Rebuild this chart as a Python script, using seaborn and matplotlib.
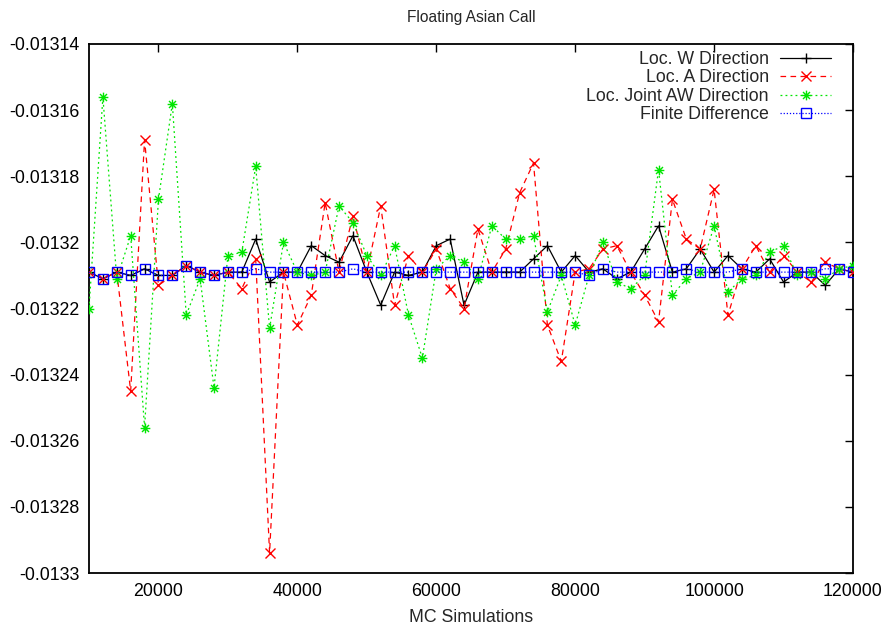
import numpy as np
import pandas as pd
import matplotlib
matplotlib.use("Agg")
import matplotlib.pyplot as plt
from matplotlib.path import Path
import seaborn as sns

# ---------------- data ----------------
mc_sims = list(range(10000, 120001, 2000))

loc_w = [-0.013209, -0.013211, -0.013209, -0.013210, -0.013208, -0.013210, -0.013210, -0.013207,
         -0.013209, -0.013210, -0.013209, -0.013209, -0.013199, -0.013212, -0.013209, -0.013209,
         -0.013201, -0.013204, -0.013206, -0.013198, -0.013209, -0.013219, -0.013209, -0.013210,
         -0.013209, -0.013201, -0.013199, -0.013219, -0.013209, -0.013209, -0.013209, -0.013209,
         -0.013205, -0.013201, -0.013209, -0.013204, -0.013209, -0.013208, -0.013211, -0.013209,
         -0.013202, -0.013195, -0.013209, -0.013208, -0.013202, -0.013209, -0.013204, -0.013208,
         -0.013209, -0.013205, -0.013212, -0.013209, -0.013209, -0.013213, -0.013208, -0.013209]

loc_a = [-0.013209, -0.013211, -0.013209, -0.013245, -0.013169, -0.013213, -0.013210, -0.013207,
         -0.013209, -0.013210, -0.013209, -0.013214, -0.013205, -0.013294, -0.013209, -0.013225,
         -0.013216, -0.013188, -0.013209, -0.013192, -0.013209, -0.013189, -0.013219, -0.013204,
         -0.013209, -0.013202, -0.013214, -0.013220, -0.013196, -0.013209, -0.013202, -0.013185,
         -0.013176, -0.013225, -0.013236, -0.013209, -0.013208, -0.013202, -0.013201, -0.013209,
         -0.013216, -0.013224, -0.013187, -0.013199, -0.013202, -0.013184, -0.013222, -0.013208,
         -0.013201, -0.013209, -0.013204, -0.013209, -0.013212, -0.013206, -0.013208, -0.013209]

loc_aw = [-0.013220, -0.013156, -0.013211, -0.013198, -0.013256, -0.013187, -0.013158, -0.013222,
          -0.013211, -0.013244, -0.013204, -0.013203, -0.013177, -0.013226, -0.013200, -0.013209,
          -0.013210, -0.013209, -0.013189, -0.013194, -0.013204, -0.013210, -0.013201, -0.013222,
          -0.013235, -0.013208, -0.013204, -0.013206, -0.013211, -0.013195, -0.013199, -0.013199,
          -0.013198, -0.013221, -0.013210, -0.013225, -0.013210, -0.013200, -0.013212, -0.013214,
          -0.013210, -0.013178, -0.013216, -0.013211, -0.013209, -0.013195, -0.013215, -0.013211,
          -0.013210, -0.013203, -0.013201, -0.013210, -0.013209, -0.013211, -0.013208, -0.013207]

finite_diff = [-0.013209, -0.013211, -0.013209, -0.013210, -0.013208, -0.013210, -0.013210, -0.013207,
               -0.013209, -0.013210, -0.013209, -0.013209, -0.013208, -0.013209, -0.013209, -0.013209,
               -0.013209, -0.013209, -0.013209, -0.013208, -0.013209, -0.013209, -0.013209, -0.013209,
               -0.013209, -0.013209, -0.013209, -0.013209, -0.013209, -0.013209, -0.013209, -0.013209,
               -0.013209, -0.013209, -0.013209, -0.013209, -0.013210, -0.013208, -0.013209, -0.013209,
               -0.013209, -0.013209, -0.013209, -0.013208, -0.013209, -0.013209, -0.013209, -0.013208,
               -0.013209, -0.013209, -0.013209, -0.013209, -0.013209, -0.013208, -0.013208, -0.013209]

x_ticks = [20000, 40000, 60000, 80000, 100000, 120000]
x_tick_labels = ["20000", "40000", "60000", "80000", "100000", "120000"]
y_ticks = [-0.01314, -0.01316, -0.01318, -0.0132, -0.01322, -0.01324, -0.01326, -0.01328, -0.0133]
y_tick_labels = ["-0.01314", "-0.01316", "-0.01318", "-0.0132", "-0.01322",
                 "-0.01324", "-0.01326", "-0.01328", "-0.0133"]

# ---------------- style ----------------
sns.set_style("white")
plt.rcParams["font.family"] = ["Liberation Sans", "DejaVu Sans"]
plt.rcParams["axes.unicode_minus"] = False

FS = 12.8

fig = plt.figure(figsize=(8.86, 6.30), dpi=100)
ax = fig.add_axes([89 / 886, 1 - 573 / 630, (853 - 89) / 886, (573 - 44) / 630])

asterisk = Path(
    [(-1, 0), (1, 0), (0, -1), (0, 1), (-0.72, -0.72), (0.72, 0.72), (-0.72, 0.72), (0.72, -0.72)],
    [Path.MOVETO, Path.LINETO, Path.MOVETO, Path.LINETO,
     Path.MOVETO, Path.LINETO, Path.MOVETO, Path.LINETO])

common = dict(ax=ax, linewidth=0.9, markeredgewidth=1.0)

sns.lineplot(x=mc_sims, y=loc_w, color="black", marker="+", markersize=7,
             markeredgecolor="black", linestyle="-", label="Loc. W Direction", zorder=2, **common)
sns.lineplot(x=mc_sims, y=loc_a, color="#ff0000", marker="x", markersize=6.5,
             markeredgecolor="#ff0000", linestyle=(0, (4.5, 3.5)), label="Loc. A Direction",
             zorder=3, **common)
sns.lineplot(x=mc_sims, y=loc_aw, color="#00e600", marker=asterisk, markersize=7,
             markeredgecolor="#00e600", fillstyle="none", linestyle=(0, (1.5, 2.5)),
             label="Loc. Joint AW Direction", zorder=4, **common)
sns.lineplot(x=mc_sims, y=finite_diff, color="#0000ff", marker="s", markersize=6.5,
             markerfacecolor="none", markeredgecolor="#0000ff", linestyle=(0, (1, 1.5)),
             label="Finite Difference", zorder=5, **common)

ax.set_xlim(10000, 120000)
ax.set_ylim(-0.0133, -0.01314)
ax.set_xticks(x_ticks)
ax.set_xticklabels(x_tick_labels)
ax.set_yticks(y_ticks)
ax.set_yticklabels(y_tick_labels)
ax.tick_params(direction="in", top=True, right=True, length=6, width=1.0,
               labelsize=FS, pad=7, colors="black")
for sp in ax.spines.values():
    sp.set_visible(True)
    sp.set_color("black")
    sp.set_linewidth(1.3)

ax.set_title("Floating Asian Call", fontsize=11.2, pad=16)
ax.set_xlabel("MC Simulations", fontsize=FS, labelpad=7)
ax.set_ylabel("")

leg = ax.legend(loc="upper right", bbox_to_anchor=(831 / 886, 1 - 51 / 630),
                bbox_transform=fig.transFigure, frameon=False, markerfirst=False,
                fontsize=FS, handlelength=2.85, handletextpad=0.65, labelspacing=0.08,
                borderpad=0, borderaxespad=0)

fig.savefig("out.png", dpi=100)
